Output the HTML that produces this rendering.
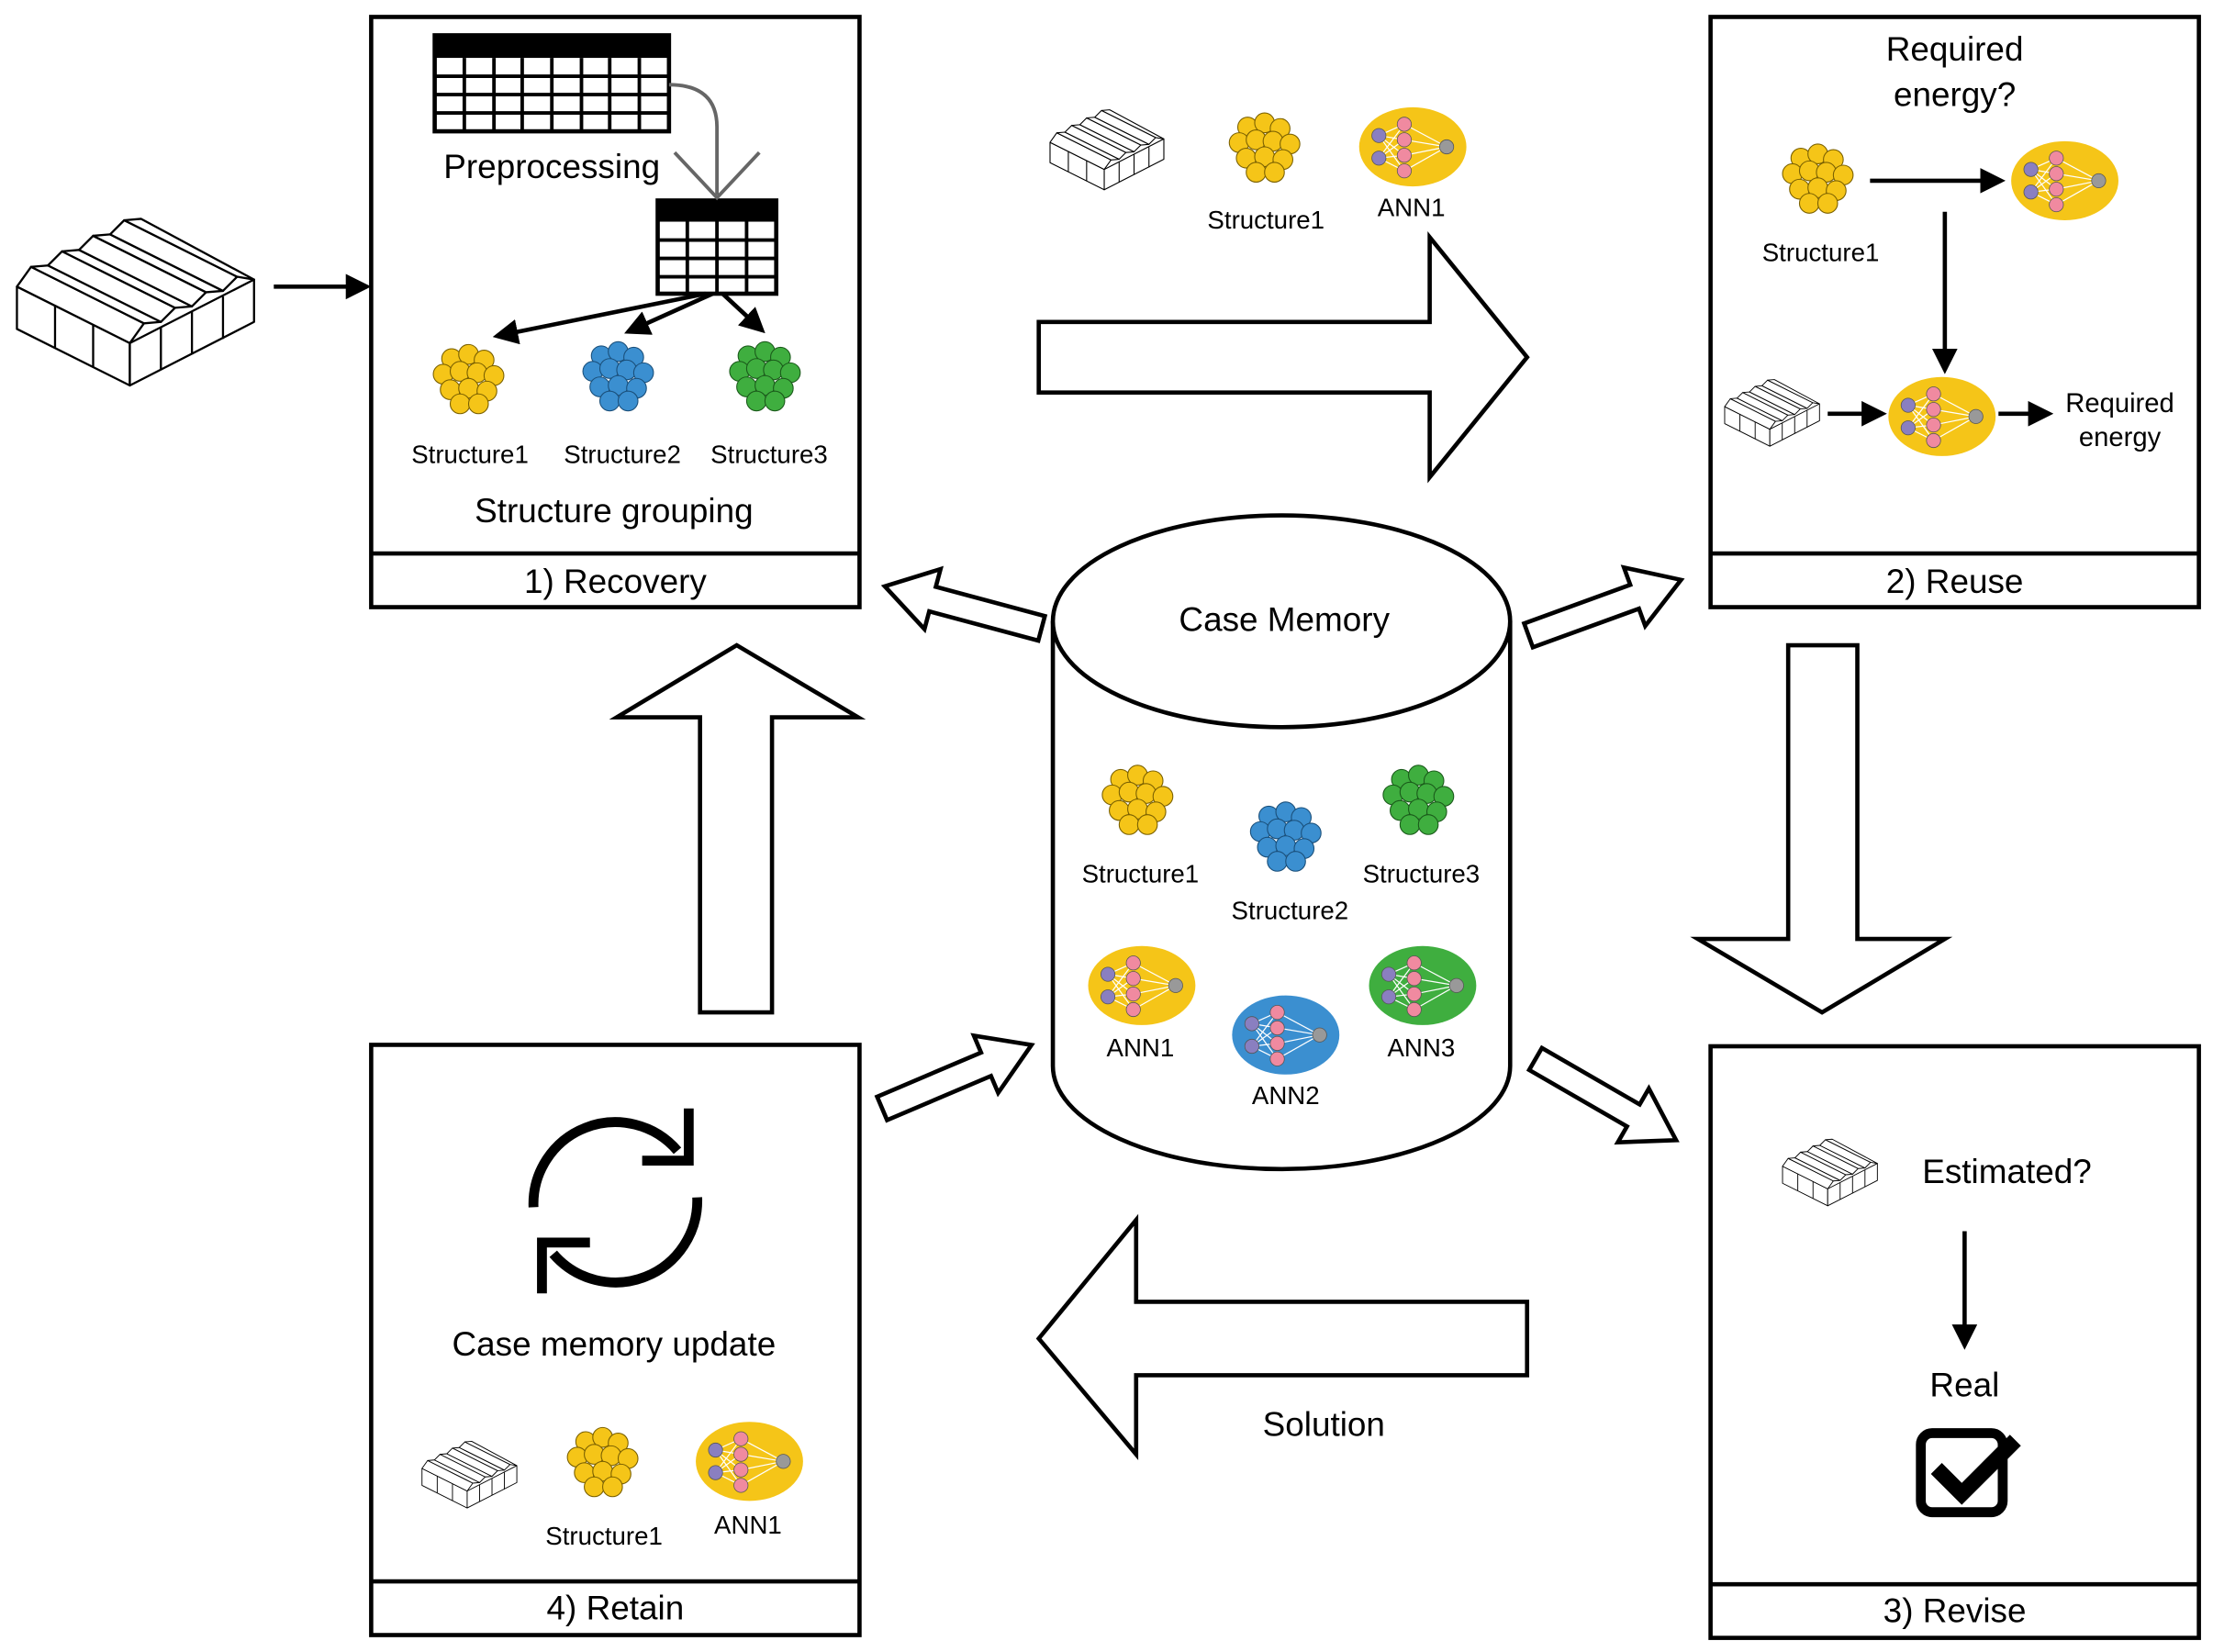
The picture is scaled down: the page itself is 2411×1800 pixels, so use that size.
<!DOCTYPE html>
<html><head><meta charset="utf-8"><style>html,body{margin:0;padding:0;background:#fff}svg{display:block}</style></head>
<body>
<svg width="2411" height="1800" viewBox="0 0 1568 1170" preserveAspectRatio="none" xmlns="http://www.w3.org/2000/svg" font-family="Liberation Sans, sans-serif">
<defs>
<g id="cl">
<circle cx="-12" cy="-14" r="7"/><circle cx="0" cy="-17" r="7"/><circle cx="11" cy="-13" r="7"/>
<circle cx="-18" cy="-3" r="7"/><circle cx="-6" cy="-5" r="7"/><circle cx="6" cy="-4" r="7"/><circle cx="18" cy="-2" r="7"/>
<circle cx="-13" cy="8" r="7"/><circle cx="0" cy="7" r="7"/><circle cx="13" cy="9" r="7"/>
<circle cx="-6" cy="18" r="7"/><circle cx="7" cy="18" r="7"/>
</g>
<g id="nn">
<g stroke="#fff" stroke-width="0.8">
<line x1="-24" y1="-8" x2="-6" y2="-16"/><line x1="-24" y1="-8" x2="-6" y2="-5"/><line x1="-24" y1="-8" x2="-6" y2="6"/><line x1="-24" y1="-8" x2="-6" y2="17"/>
<line x1="-24" y1="8" x2="-6" y2="-16"/><line x1="-24" y1="8" x2="-6" y2="-5"/><line x1="-24" y1="8" x2="-6" y2="6"/><line x1="-24" y1="8" x2="-6" y2="17"/>
<line x1="-6" y1="-16" x2="24" y2="0"/><line x1="-6" y1="-5" x2="24" y2="0"/><line x1="-6" y1="6" x2="24" y2="0"/><line x1="-6" y1="17" x2="24" y2="0"/>
</g>
<g stroke="#555" stroke-width="0.5">
<circle cx="-24" cy="-8" r="5" fill="#8a7fc0"/><circle cx="-24" cy="8" r="5" fill="#8a7fc0"/>
<circle cx="-6" cy="-16" r="5" fill="#f08aa0"/><circle cx="-6" cy="-5" r="5" fill="#f08aa0"/><circle cx="-6" cy="6" r="5" fill="#f08aa0"/><circle cx="-6" cy="17" r="5" fill="#f08aa0"/>
<circle cx="24" cy="0" r="5" fill="#999"/></g>
</g>
<g id="gh" fill="#fff" stroke="#000" stroke-width="1.5" stroke-linejoin="round">
<polygon points="0,60 80,100 80,130 0,90"/>
<polygon points="80,100 168,55 168,85 80,130"/>
<polygon points="0,60 10,46 90,86 80,100"/>
<polygon points="10,46 22,45 102,85 90,86"/>
<polygon points="22,45 32,35 112,75 102,85"/>
<polygon points="32,35 44,34 124,74 112,75"/>
<polygon points="44,34 54,24 134,64 124,74"/>
<polygon points="54,24 66,23 146,63 134,64"/>
<polygon points="66,23 76,13 156,53 146,63"/>
<polygon points="76,13 88,12 168,55 156,53"/>
<line x1="27" y1="73" x2="27" y2="103"/><line x1="54" y1="87" x2="54" y2="117"/>
<line x1="102" y1="89" x2="102" y2="119"/><line x1="124" y1="78" x2="124" y2="108"/><line x1="146" y1="67" x2="146" y2="97"/>
</g>
<polygon id="sa" points="0,-9 80,-9 80,-22 115,0 80,22 80,9 0,9" fill="#fff" stroke="#000" stroke-width="3" stroke-linejoin="miter"/>
<marker id="ah" markerWidth="6" markerHeight="6" refX="5" refY="3" orient="auto" markerUnits="strokeWidth"><path d="M0,0 L6,3 L0,6 z" fill="#000"/></marker>
</defs>

<g fill="#fff" stroke="#000" stroke-width="3">
<rect x="263" y="12" width="346" height="418"/><line x1="263" y1="392" x2="609" y2="392"/>
<rect x="1212" y="12" width="346" height="418"/><line x1="1212" y1="392" x2="1558" y2="392"/>
<rect x="1212" y="741" width="346" height="419"/><line x1="1212" y1="1122" x2="1558" y2="1122"/>
<rect x="263" y="740" width="346" height="418"/><line x1="263" y1="1120" x2="609" y2="1120"/>
</g>
<g font-size="24" text-anchor="middle">
<text x="436" y="420">1) Recovery</text><text x="1385" y="420">2) Reuse</text>
<text x="1385" y="1149">3) Revise</text><text x="436" y="1147">4) Retain</text>
</g>

<path d="M746,440 L746,755 A162,73 0 0 0 1070,755 L1070,440" fill="#fff" stroke="#000" stroke-width="3"/>
<ellipse cx="908" cy="440" rx="162" ry="75" fill="#fff" stroke="#000" stroke-width="3"/>
<text x="910" y="447" font-size="24" text-anchor="middle">Case Memory</text>

<g fill="#fff" stroke="#000" stroke-width="3" stroke-linejoin="miter">
<polygon points="736,228 1013,228 1013,168 1082,253 1013,338 1013,278 736,278"/>
<polygon points="1267,457 1316,457 1316,665 1378,665 1291,717 1203,665 1267,665"/>
<polygon points="1082,922 805,922 805,864 736,948 805,1030 805,974 1082,974"/>
<polygon points="496,717 547,717 547,508 608,508 522,457 437,508 496,508"/>
</g>
<use href="#sa" transform="translate(738,445) rotate(195)"/>
<use href="#sa" transform="translate(1083,450) rotate(-20)"/>
<use href="#sa" transform="translate(625,785) rotate(-23)"/>
<use href="#sa" transform="translate(1088,750) rotate(30)"/>

<use href="#gh" transform="translate(12,143)"/>
<line x1="194" y1="203" x2="260" y2="203" stroke="#000" stroke-width="3" marker-end="url(#ah)"/>

<g>
<rect x="308" y="25" width="166" height="68" fill="#fff" stroke="#000" stroke-width="3"/>
<rect x="308" y="25" width="166" height="16" fill="#000"/>
<g stroke="#000" stroke-width="2.5"><line x1="308" y1="54" x2="474" y2="54"/><line x1="308" y1="67" x2="474" y2="67"/><line x1="308" y1="80" x2="474" y2="80"/>
<line x1="329" y1="41" x2="329" y2="93"/><line x1="350" y1="41" x2="350" y2="93"/><line x1="370" y1="41" x2="370" y2="93"/><line x1="391" y1="41" x2="391" y2="93"/><line x1="412" y1="41" x2="412" y2="93"/><line x1="432" y1="41" x2="432" y2="93"/><line x1="453" y1="41" x2="453" y2="93"/></g>
<rect x="466" y="142" width="84" height="66" fill="#fff" stroke="#000" stroke-width="3"/>
<rect x="466" y="142" width="84" height="15" fill="#000"/>
<g stroke="#000" stroke-width="2.5"><line x1="466" y1="170" x2="550" y2="170"/><line x1="466" y1="183" x2="550" y2="183"/><line x1="466" y1="196" x2="550" y2="196"/>
<line x1="487" y1="157" x2="487" y2="208"/><line x1="508" y1="157" x2="508" y2="208"/><line x1="529" y1="157" x2="529" y2="208"/></g>
<path d="M474,60 Q508,60 508,90 L508,138" fill="none" stroke="#666" stroke-width="2.5"/>
<polyline points="478,108 508,140 538,108" fill="none" stroke="#666" stroke-width="2.5"/>
<text x="391" y="126" font-size="24" text-anchor="middle">Preprocessing</text>
<g stroke="#000" stroke-width="3"><line x1="500" y1="208" x2="352" y2="238" marker-end="url(#ah)"/><line x1="505" y1="208" x2="445" y2="235" marker-end="url(#ah)"/><line x1="512" y1="208" x2="540" y2="234" marker-end="url(#ah)"/></g>
<use href="#cl" transform="translate(332,268)" fill="#f5c518" stroke="#7a6000" stroke-width="0.7"/>
<use href="#cl" transform="translate(438,266)" fill="#3b8fd0" stroke="#1a4f7a" stroke-width="0.7"/>
<use href="#cl" transform="translate(542,266)" fill="#3fae3f" stroke="#1a5a1a" stroke-width="0.7"/>
<g font-size="18" text-anchor="middle"><text x="333" y="328">Structure1</text><text x="441" y="328">Structure2</text><text x="545" y="328">Structure3</text></g>
<text x="435" y="370" font-size="24" text-anchor="middle">Structure grouping</text>
</g>

<use href="#gh" transform="translate(744,72) scale(0.48)"/>
<use href="#cl" transform="translate(896,104)" fill="#f5c518" stroke="#7a6000" stroke-width="0.7"/>
<ellipse cx="1001" cy="104" rx="38" ry="28" fill="#f5c518"/><use href="#nn" transform="translate(1001,104)"/>
<g font-size="18" text-anchor="middle"><text x="897" y="162">Structure1</text><text x="1000" y="153">ANN1</text></g>

<text x="1385" y="43" font-size="24" text-anchor="middle">Required</text>
<text x="1385" y="75" font-size="24" text-anchor="middle">energy?</text>
<use href="#cl" transform="translate(1288,126)" fill="#f5c518" stroke="#7a6000" stroke-width="0.7"/>
<text x="1290" y="185" font-size="18" text-anchor="middle">Structure1</text>
<ellipse cx="1463" cy="128" rx="38" ry="28" fill="#f5c518"/><use href="#nn" transform="translate(1463,128)"/>
<ellipse cx="1376" cy="295" rx="38" ry="28" fill="#f5c518"/><use href="#nn" transform="translate(1376,295)"/>
<use href="#gh" transform="translate(1222,264) scale(0.4)"/>
<g stroke="#000" stroke-width="3"><line x1="1325" y1="128" x2="1418" y2="128" marker-end="url(#ah)"/><line x1="1378" y1="150" x2="1378" y2="262" marker-end="url(#ah)"/>
<line x1="1295" y1="293" x2="1334" y2="293" marker-end="url(#ah)"/><line x1="1416" y1="293" x2="1452" y2="293" marker-end="url(#ah)"/></g>
<text x="1502" y="292" font-size="19" text-anchor="middle">Required</text><text x="1502" y="316" font-size="19" text-anchor="middle">energy</text>

<use href="#cl" transform="translate(806,566)" fill="#f5c518" stroke="#7a6000" stroke-width="0.7"/>
<use href="#cl" transform="translate(911,592)" fill="#3b8fd0" stroke="#1a4f7a" stroke-width="0.7"/>
<use href="#cl" transform="translate(1005,566)" fill="#3fae3f" stroke="#1a5a1a" stroke-width="0.7"/>
<g font-size="18" text-anchor="middle"><text x="808" y="625">Structure1</text><text x="914" y="651">Structure2</text><text x="1007" y="625">Structure3</text></g>
<ellipse cx="809" cy="698" rx="38" ry="28" fill="#f5c518"/><use href="#nn" transform="translate(809,698)"/>
<ellipse cx="911" cy="733" rx="38" ry="28" fill="#3b8fd0"/><use href="#nn" transform="translate(911,733)"/>
<ellipse cx="1008" cy="698" rx="38" ry="28" fill="#3fae3f"/><use href="#nn" transform="translate(1008,698)"/>
<g font-size="18" text-anchor="middle"><text x="808" y="748">ANN1</text><text x="911" y="782">ANN2</text><text x="1007" y="748">ANN3</text></g>

<use href="#gh" transform="translate(1263,802) scale(0.4)"/>
<text x="1422" y="838" font-size="24" text-anchor="middle">Estimated?</text>
<line x1="1392" y1="872" x2="1392" y2="953" stroke="#000" stroke-width="3" marker-end="url(#ah)"/>
<text x="1392" y="989" font-size="24" text-anchor="middle">Real</text>
<rect x="1361" y="1015" width="58" height="56" rx="8" fill="none" stroke="#000" stroke-width="7"/>
<polyline points="1372,1040 1390,1058 1428,1020" fill="none" stroke="#000" stroke-width="11"/>

<text x="938" y="1017" font-size="24" text-anchor="middle">Solution</text>

<path d="M378,855 A58,58 0 0 1 480,815" fill="none" stroke="#000" stroke-width="7"/>
<polyline points="488,785 488,822 455,822" fill="none" stroke="#000" stroke-width="7"/>
<path d="M494,848 A58,58 0 0 1 392,888" fill="none" stroke="#000" stroke-width="7"/>
<polyline points="384,916 384,880 418,880" fill="none" stroke="#000" stroke-width="7"/>
<text x="435" y="960" font-size="24" text-anchor="middle">Case memory update</text>
<use href="#gh" transform="translate(299,1016) scale(0.4)"/>
<use href="#cl" transform="translate(427,1035)" fill="#f5c518" stroke="#7a6000" stroke-width="0.7"/>
<ellipse cx="531" cy="1035" rx="38" ry="28" fill="#f5c518"/><use href="#nn" transform="translate(531,1035)"/>
<g font-size="18" text-anchor="middle"><text x="428" y="1094">Structure1</text><text x="530" y="1086">ANN1</text></g>
</svg>
</body></html>
